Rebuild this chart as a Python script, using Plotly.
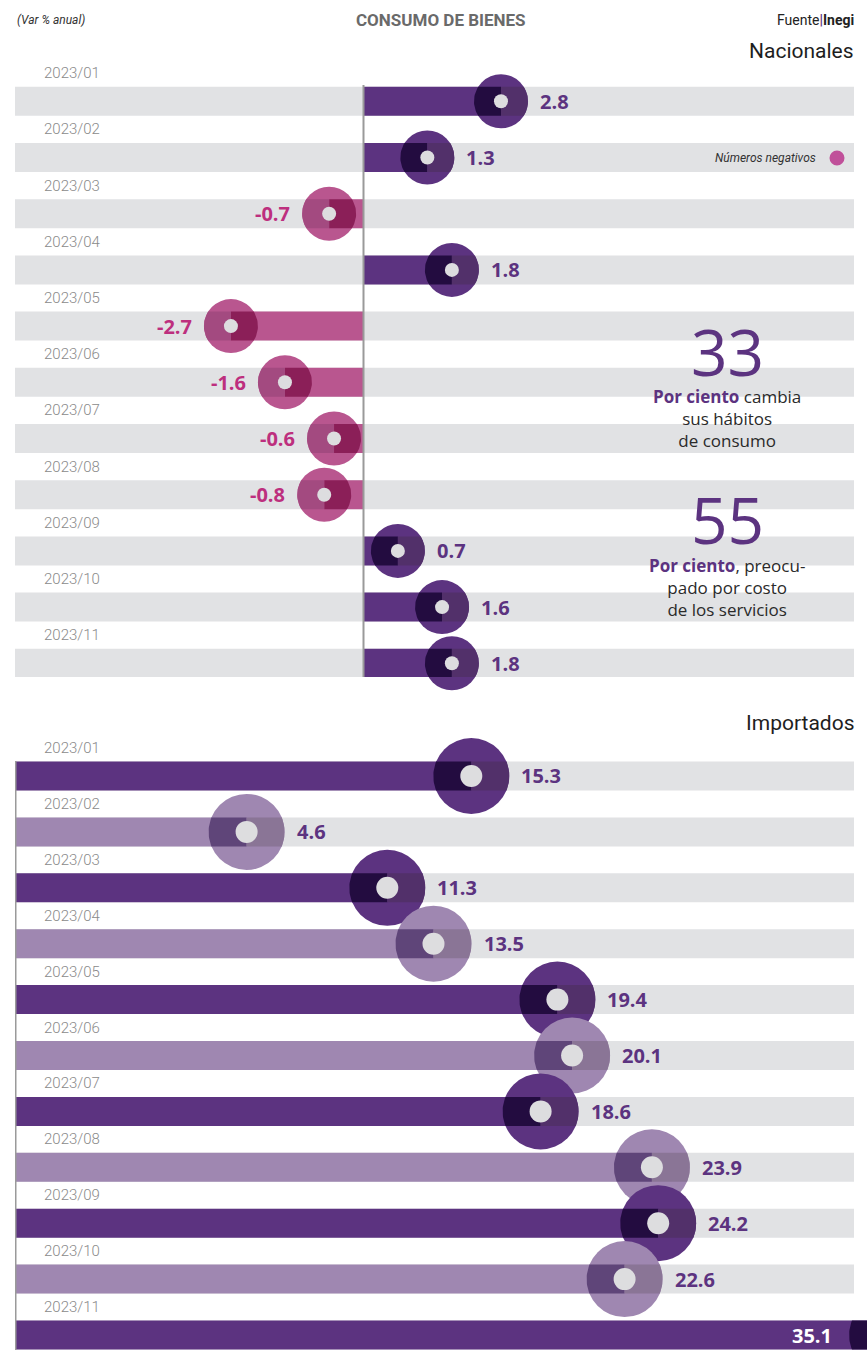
import math
import plotly.graph_objects as go

# ---------------- data ----------------
MONTHS = ["2023/01", "2023/02", "2023/03", "2023/04", "2023/05", "2023/06",
          "2023/07", "2023/08", "2023/09", "2023/10", "2023/11"]
NACIONALES = [2.8, 1.3, -0.7, 1.8, -2.7, -1.6, -0.6, -0.8, 0.7, 1.6, 1.8]
IMPORTADOS = [15.3, 4.6, 11.3, 13.5, 19.4, 20.1, 18.6, 23.9, 24.2, 22.6, 35.1]

TITLE = "CONSUMO DE BIENES"
UNIT_NOTE = "(Var % anual)"
PANEL_TOP = "Nacionales"
PANEL_BOTTOM = "Importados"
STAT_1_VALUE = "33"
STAT_1_TEXT = "cambia<br>sus hábitos<br>de consumo"
STAT_2_VALUE = "55"
STAT_2_TEXT = ", preocu-<br>pado por costo<br>de los servicios"

# ---------------- styles / geometry ----------------
W, H = 867, 1370
GREY_BAND = "#e1e2e4"
AXIS_LINE = "#9a9a9a"
DOT = "#dddddf"
PURPLE = "#5c3380"
PURPLE_DARK = "#230c40"
PURPLE_MED = "#52306a"
PINK = "#b9568f"
PINK_DARK = "#8b1f58"
PINK_MED = "#a34a80"
LILAC = "#9f87b1"
LILAC_DARK = "#5f4579"
LILAC_MED = "#8a7596"
LABEL_PINK = "#bd2f7e"
FONT = "Open Sans"
FONT_C = "Roboto"

TOP = dict(x0px=15, x1px=854, zero_px=363.5, ppu=49.1, band_end_px=854,
           y0px=85, y1px=677, row0px=101.3, pitch=56.2, R=27, dot=14)
IMP = dict(x0px=15, x1px=867, zero_px=150.0, ppu=21.0, band_end_px=854,
           y0px=761, y1px=1350, row0px=776.0, pitch=55.9, R=38, dot=22)
BAND_PX = 29
GAP_PX = 10

idx = list(range(len(MONTHS)))


def setup(g):
    g["xmin"] = (g["x0px"] - g["zero_px"]) / g["ppu"]
    g["xmax"] = (g["x1px"] - g["zero_px"]) / g["ppu"]
    g["band_end"] = (g["band_end_px"] - g["zero_px"]) / g["ppu"]
    g["ytop"] = (g["y0px"] - g["row0px"]) / g["pitch"]
    g["ybot"] = (g["y1px"] - g["row0px"]) / g["pitch"]
    g["bw"] = BAND_PX / g["pitch"]


setup(TOP)
setup(IMP)


def lens(cx, cy, g, side, n=18):
    """Part of the circle (radius R px) lying inside the band, on one side of its centre."""
    R = g["R"]
    h = BAND_PX / 2
    xs, ys = [cx], [cy - h / g["pitch"]]
    for k in range(n + 1):
        dy = -h + 2 * h * k / n
        dx = side * math.sqrt(R * R - dy * dy)
        xs.append(cx + dx / g["ppu"])
        ys.append(cy + dy / g["pitch"])
    xs += [cx, cx, None]
    ys += [cy + h / g["pitch"], cy - h / g["pitch"], None]
    return xs, ys


fig = go.Figure()


def add_panel(values, g, xa, ya, bar_base_at_min, colors, dark, med, sides):
    n = len(values)
    # grey background bands
    fig.add_trace(go.Bar(orientation="h", y=idx, x=[g["band_end"] - g["xmin"]] * n,
                         base=g["xmin"], width=g["bw"], marker=dict(color=GREY_BAND, line_width=0),
                         xaxis=xa, yaxis=ya, hoverinfo="skip"))
    # value bars
    if bar_base_at_min:
        xs = [v - g["xmin"] for v in values]
        base = g["xmin"]
    else:
        xs = values
        base = 0
    fig.add_trace(go.Bar(orientation="h", y=idx, x=xs, base=base, width=g["bw"],
                         marker=dict(color=colors, line_width=0), xaxis=xa, yaxis=ya))
    # circles
    fig.add_trace(go.Scatter(x=values, y=idx, mode="markers", cliponaxis=False,
                             marker=dict(size=2 * g["R"], color=colors, line_width=0),
                             xaxis=xa, yaxis=ya))
    # overlap regions (dark over bar, medium over grey band)
    groups = {}
    for i, v in enumerate(values):
        s = sides[i]
        for side, col in ((s, dark[i]), (-s, med[i])):
            px_, py_ = lens(v, i, g, side)
            gx, gy = groups.setdefault(col, ([], []))
            gx += px_
            gy += py_
    for col, (gx, gy) in groups.items():
        fig.add_trace(go.Scatter(x=gx, y=gy, mode="lines", fill="toself", fillcolor=col,
                                 line=dict(width=0, color=col), xaxis=xa, yaxis=ya,
                                 hoverinfo="skip"))
    # inner dots
    fig.add_trace(go.Scatter(x=values, y=idx, mode="markers", cliponaxis=False,
                             marker=dict(size=g["dot"], color=DOT, line_width=0),
                             xaxis=xa, yaxis=ya))


# ---- top panel ----
top_colors = [PURPLE if v >= 0 else PINK for v in NACIONALES]
top_dark = [PURPLE_DARK if v >= 0 else PINK_DARK for v in NACIONALES]
top_med = [PURPLE_MED if v >= 0 else PINK_MED for v in NACIONALES]
top_sides = [-1 if v >= 0 else 1 for v in NACIONALES]
add_panel(NACIONALES, TOP, "x", "y", False, top_colors, top_dark, top_med, top_sides)

# ---- bottom panel ----
imp_colors = [PURPLE if i % 2 == 0 else LILAC for i in idx]
imp_dark = [PURPLE_DARK if i % 2 == 0 else LILAC_DARK for i in idx]
imp_med = [PURPLE_MED if i % 2 == 0 else LILAC_MED for i in idx]
add_panel(IMPORTADOS, IMP, "x2", "y2", True, imp_colors, imp_dark, imp_med, [-1] * len(idx))

annotations = []
shapes = []

# row labels (placed half a row above each band, in paper coordinates)
for i, m in enumerate(MONTHS):
    for g in (TOP, IMP):
        ypx = g["row0px"] + (i - 0.5) * g["pitch"]
        annotations.append(dict(text=m, xref="paper", x=42 / W, xanchor="left",
                                yref="paper", y=1 - ypx / H, yanchor="middle", showarrow=False,
                                font=dict(family=FONT_C, size=15, color="#8a8a8a", weight=300)))

# value labels, top
for i, v in enumerate(NACIONALES):
    pos = v >= 0
    annotations.append(dict(text=f"{v:.1f}", xref="x", yref="y", x=v, y=i, showarrow=False,
                            xanchor="left" if pos else "right",
                            xshift=(TOP["R"] + GAP_PX) * (1 if pos else -1),
                            font=dict(family=FONT, size=20, weight="bold",
                                      color=PURPLE if pos else LABEL_PINK)))
# value labels, bottom
for i, v in enumerate(IMPORTADOS):
    if v + (IMP["R"] + GAP_PX + 40) / IMP["ppu"] > IMP["xmax"]:
        annotations.append(dict(text=f"{v:.1f}", xref="x2", yref="y2", x=IMP["band_end"], y=i,
                                showarrow=False, xanchor="right", xshift=-20,
                                font=dict(family=FONT, size=20, weight="bold", color="white")))
    else:
        annotations.append(dict(text=f"{v:.1f}", xref="x2", yref="y2", x=v, y=i, showarrow=False,
                                xanchor="left", xshift=IMP["R"] + GAP_PX,
                                font=dict(family=FONT, size=20, weight="bold", color=PURPLE)))

# axis lines
shapes.append(dict(type="line", xref="x", x0=0, x1=0, yref="y domain", y0=0, y1=1,
                   line=dict(color=AXIS_LINE, width=2)))
shapes.append(dict(type="line", xref="x2", x0=IMP["xmin"], x1=IMP["xmin"], yref="y2 domain",
                   y0=0, y1=1, line=dict(color=AXIS_LINE, width=3)))

# header
annotations += [
    dict(text=f"<i>{UNIT_NOTE}</i>", xref="paper", yref="paper", x=15 / W, y=1 - 20 / H,
         xanchor="left", yanchor="middle", showarrow=False,
         font=dict(family=FONT_C, size=12, color="#333333")),
    dict(text=f"<b>{TITLE}</b>", xref="paper", yref="paper", x=441 / W, y=1 - 20 / H,
         xanchor="center", yanchor="middle", showarrow=False,
         font=dict(family=FONT_C, size=17, color="#6a6a6a")),
    dict(text="Fuente<span style='color:#5c3380'><b>|</b></span><b>Inegi</b>", xref="paper",
         yref="paper", x=856 / W, y=1 - 20 / H, xanchor="right", yanchor="middle",
         showarrow=False, font=dict(family=FONT_C, size=14, color="#222222")),
    dict(text=PANEL_TOP, xref="paper", yref="paper", x=856 / W, y=1 - 51 / H,
         xanchor="right", yanchor="middle", showarrow=False,
         font=dict(family=FONT_C, size=21, color="#1e1e1e")),
    dict(text=PANEL_BOTTOM, xref="paper", yref="paper", x=856 / W, y=1 - 723 / H,
         xanchor="right", yanchor="middle", showarrow=False,
         font=dict(family=FONT_C, size=21, color="#1e1e1e")),
    dict(text="<i>Números negativos</i>", xref="paper", yref="paper", x=818 / W, y=1 - 158 / H,
         xanchor="right", yanchor="middle", showarrow=False,
         font=dict(family=FONT_C, size=12, color="#333333")),
    # stats
    dict(text=STAT_1_VALUE, xref="paper", yref="paper", x=727 / W, y=1 - 351 / H,
         xanchor="center", yanchor="middle", showarrow=False,
         font=dict(family=FONT, size=64, color=PURPLE)),
    dict(text=f"<b><span style='color:{PURPLE}'>Por ciento</span></b> {STAT_1_TEXT}",
         xref="paper", yref="paper", x=727 / W, y=1 - 418 / H, xanchor="center",
         yanchor="middle", align="center", showarrow=False,
         font=dict(family=FONT, size=17, color="#2a2a2a")),
    dict(text=STAT_2_VALUE, xref="paper", yref="paper", x=727 / W, y=1 - 519 / H,
         xanchor="center", yanchor="middle", showarrow=False,
         font=dict(family=FONT, size=64, color=PURPLE)),
    dict(text=f"<b><span style='color:{PURPLE}'>Por ciento</span></b>{STAT_2_TEXT}",
         xref="paper", yref="paper", x=727 / W, y=1 - 587 / H, xanchor="center",
         yanchor="middle", align="center", showarrow=False,
         font=dict(family=FONT, size=17, color="#2a2a2a")),
]
shapes.append(dict(type="circle", xref="paper", yref="paper", x0=829.5 / W, x1=844.5 / W,
                   y0=1 - 165.5 / H, y1=1 - 150.5 / H, fillcolor="#c0509a", line_width=0))


def ax(dom_px, rng):
    return dict(domain=[dom_px[0] / W, dom_px[1] / W], range=rng, visible=False,
                showgrid=False, zeroline=False, fixedrange=True)


def ay(dom_px, g):
    return dict(domain=[1 - dom_px[1] / H, 1 - dom_px[0] / H], range=[g["ybot"], g["ytop"]],
                visible=False, showgrid=False, zeroline=False, fixedrange=True)


fig.update_layout(
    width=W, height=H, margin=dict(l=0, r=0, t=0, b=0),
    paper_bgcolor="white", plot_bgcolor="rgba(0,0,0,0)",
    barmode="overlay", showlegend=False, hovermode=False,
    xaxis=ax((TOP["x0px"], TOP["x1px"]), [TOP["xmin"], TOP["xmax"]]),
    yaxis=ay((TOP["y0px"], TOP["y1px"]), TOP),
    xaxis2=dict(ax((IMP["x0px"], IMP["x1px"]), [IMP["xmin"], IMP["xmax"]]), anchor="y2"),
    yaxis2=dict(ay((IMP["y0px"], IMP["y1px"]), IMP), anchor="x2"),
    annotations=annotations, shapes=shapes,
)

fig.write_html(
    "out.html",
    config={"displayModeBar": False},
    post_script="document.body.style.margin='0';document.body.style.padding='0';"
                "document.body.style.overflow='hidden';",
)
